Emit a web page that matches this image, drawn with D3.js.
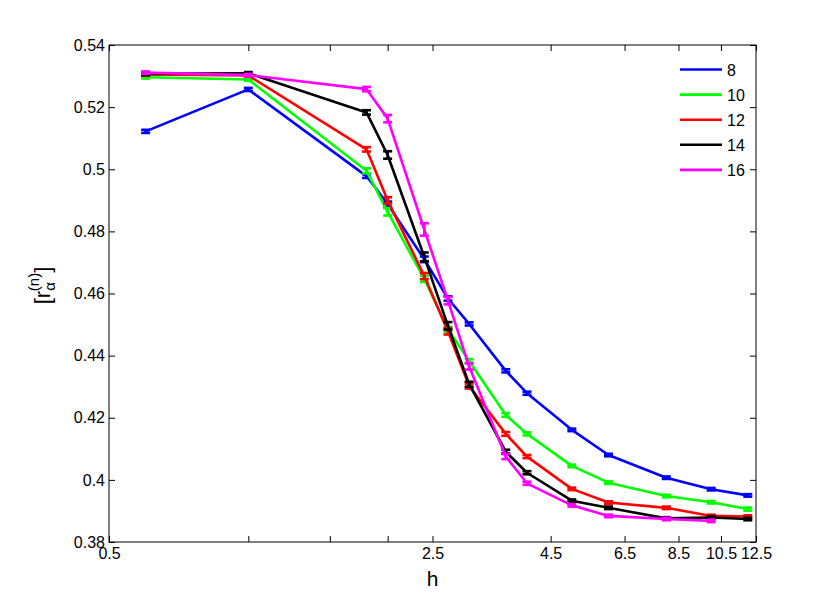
<!DOCTYPE html>
<html>
<head>
<meta charset="utf-8">
<script src="https://cdn.jsdelivr.net/npm/d3@7/dist/d3.min.js"></script>
<style>
    body { margin: 0; background: #fff; }
    text { font-family: "Liberation Sans", Arial, Helvetica, sans-serif; }
</style>
</head>
<body>
<div id="chart"></div>
<script>
// field values h (shared by every series)
let hValues = [0.6, 1, 1.8, 2, 2.4, 2.7, 3, 3.6, 4, 5, 6, 8, 10, 12];

// mean [r_alpha^(n)] per system size n
let r8 = [0.5122, 0.5257, 0.4978, 0.4888, 0.4710, 0.4584, 0.4502, 0.4351, 0.4279, 0.4161, 0.4080, 0.4007, 0.3970, 0.3950];
let r10 = [0.5296, 0.5289, 0.4995, 0.4863, 0.4647, 0.4485, 0.4383, 0.4209, 0.4148, 0.4045, 0.3991, 0.3948, 0.3928, 0.3906];
let r12 = [0.5305, 0.5302, 0.5064, 0.4900, 0.4656, 0.4478, 0.4302, 0.4148, 0.4075, 0.3971, 0.3927, 0.3910, 0.3884, 0.3882];
let r14 = [0.5307, 0.5309, 0.5183, 0.5046, 0.4718, 0.4496, 0.4308, 0.4091, 0.4023, 0.3933, 0.3910, 0.3876, 0.3879, 0.3874];
let r16 = [0.5311, 0.5303, 0.5258, 0.5163, 0.4806, 0.4577, 0.4365, 0.4075, 0.3989, 0.3918, 0.3884, 0.3874, 0.3868];

// error bar half heights
let e8 = [0.0005, 0.0005, 0.0006, 0.0008, 0.0009, 0.0007, 0.0005, 0.0005, 0.0005, 0.0004, 0.0004, 0.0004, 0.0004, 0.0004];
let e10 = [0.0004, 0.0004, 0.0008, 0.0012, 0.0010, 0.0008, 0.0006, 0.0006, 0.0005, 0.0004, 0.0004, 0.0004, 0.0004, 0.0005];
let e12 = [0.0004, 0.0004, 0.0007, 0.0010, 0.0010, 0.0010, 0.0008, 0.0006, 0.0005, 0.0004, 0.0004, 0.0004, 0.0004, 0.0004];
let e14 = [0.0004, 0.0004, 0.0007, 0.0012, 0.0014, 0.0012, 0.0008, 0.0006, 0.0005, 0.0004, 0.0004, 0.0004, 0.0004, 0.0004];
let e16 = [0.0004, 0.0004, 0.0007, 0.0012, 0.0020, 0.0012, 0.0010, 0.0008, 0.0005, 0.0004, 0.0004, 0.0004, 0.0004];

let seriesNames = ['8', '10', '12', '14', '16'];
let seriesColors = ['#0000ff', '#00ff00', '#ff0000', '#000000', '#ff00ff'];

let xTicks = [0.5, 1, 1.5, 2, 2.5, 4.5, 6.5, 8.5, 10.5, 12.5];
let xTickLabels = ['0.5', '', '', '', '2.5', '4.5', '6.5', '8.5', '10.5', '12.5'];
let yTicks = [0.38, 0.40, 0.42, 0.44, 0.46, 0.48, 0.50, 0.52, 0.54];
let yTickLabels = ['0.38', '0.4', '0.42', '0.44', '0.46', '0.48', '0.5', '0.52', '0.54'];

let width = 835, height = 610;
let box = {left: 109, right: 756, top: 45, bottom: 542};

let svg = d3.select('#chart').append('svg')
    .attr('width', width)
    .attr('height', height)
    .style('background', '#fff');

// log scale on h, linear on r
let xScale = d3.scaleLog().domain([0.5, 12.5]).range([box.left, box.right]);
let yScale = d3.scaleLinear().domain([0.38, 0.54]).range([box.bottom, box.top]);

let means = [r8, r10, r12, r14, r16];
let errs = [e8, e10, e12, e14, e16];
let series = seriesNames.map(function (name, i) {
    return {
        name: name,
        color: seriesColors[i],
        points: means[i].map(function (v, j) {
            return {h: hValues[j], r: v, e: errs[i][j]};
        })
    };
});

// axes, ticks pointing inward like the original box plot
let styleAxis = function (g) {
    g.select('.domain').remove();
    g.selectAll('.tick line').attr('stroke', '#000').attr('stroke-width', 1);
    g.selectAll('.tick text').attr('fill', '#000').style('font-size', '16px');
};
svg.append('g')
    .attr('transform', 'translate(0,' + box.bottom + ')')
    .call(d3.axisBottom(xScale).tickValues(xTicks)
        .tickFormat(function (d, i) { return xTickLabels[i]; })
        .tickSizeInner(-6).tickSizeOuter(0).tickPadding(6))
    .call(styleAxis);
svg.append('g')
    .attr('transform', 'translate(0,' + box.top + ')')
    .call(d3.axisTop(xScale).tickValues(xTicks).tickFormat('')
        .tickSizeInner(-6).tickSizeOuter(0))
    .call(styleAxis);
svg.append('g')
    .attr('transform', 'translate(' + box.left + ',0)')
    .call(d3.axisLeft(yScale).tickValues(yTicks)
        .tickFormat(function (d, i) { return yTickLabels[i]; })
        .tickSizeInner(-6).tickSizeOuter(0).tickPadding(4))
    .call(styleAxis);
svg.append('g')
    .attr('transform', 'translate(' + box.right + ',0)')
    .call(d3.axisRight(yScale).tickValues(yTicks).tickFormat('')
        .tickSizeInner(-6).tickSizeOuter(0))
    .call(styleAxis);

// frame
svg.append('rect')
    .attr('x', box.left).attr('y', box.top)
    .attr('width', box.right - box.left).attr('height', box.bottom - box.top)
    .attr('fill', 'none').attr('stroke', '#000').attr('stroke-width', 1);

// lines + error bars
let line = d3.line()
    .x(function (d) { return xScale(d.h); })
    .y(function (d) { return yScale(d.r); });
let cap = 4.5;
series.forEach(function (s) {
    let g = svg.append('g').attr('class', 'series');
    g.append('path')
        .attr('d', line(s.points))
        .attr('fill', 'none')
        .attr('stroke', s.color)
        .attr('stroke-width', 2.6)
        .attr('stroke-linejoin', 'round');
    let bars = g.selectAll('g.bar').data(s.points).enter().append('g').attr('class', 'bar');
    bars.append('line')
        .attr('x1', function (d) { return xScale(d.h); })
        .attr('x2', function (d) { return xScale(d.h); })
        .attr('y1', function (d) { return yScale(d.r - d.e); })
        .attr('y2', function (d) { return yScale(d.r + d.e); });
    bars.append('line')
        .attr('x1', function (d) { return xScale(d.h) - cap; })
        .attr('x2', function (d) { return xScale(d.h) + cap; })
        .attr('y1', function (d) { return yScale(d.r + d.e); })
        .attr('y2', function (d) { return yScale(d.r + d.e); });
    bars.append('line')
        .attr('x1', function (d) { return xScale(d.h) - cap; })
        .attr('x2', function (d) { return xScale(d.h) + cap; })
        .attr('y1', function (d) { return yScale(d.r - d.e); })
        .attr('y2', function (d) { return yScale(d.r - d.e); });
    bars.selectAll('line').attr('stroke', s.color).attr('stroke-width', 2.6);
});

// legend
let legend = svg.append('g').attr('class', 'legend');
series.forEach(function (s, i) {
    let ly = 69.5 + i * 25.1;
    legend.append('line')
        .attr('x1', 680).attr('x2', 722)
        .attr('y1', ly).attr('y2', ly)
        .attr('stroke', s.color).attr('stroke-width', 2.6);
    legend.append('text')
        .attr('x', 727).attr('y', ly + 6)
        .style('font-size', '16px')
        .text(s.name);
});

// axis titles
svg.append('text')
    .attr('x', (box.left + box.right) / 2).attr('y', 586)
    .attr('text-anchor', 'middle')
    .style('font-size', '21px')
    .text('h');

let yl = svg.append('text')
    .attr('transform', 'translate(50,' + ((box.top + box.bottom) / 2 - 8) + ') rotate(-90)')
    .attr('text-anchor', 'middle')
    .style('font-size', '22px');
yl.append('tspan').text('[r');
yl.append('tspan').attr('dy', 5).style('font-size', '15px').text('α');
yl.append('tspan').attr('dx', -9).attr('dy', -16).style('font-size', '15px').text('(n)');
yl.append('tspan').attr('dy', 11).text(']');
</script>
</body>
</html>
